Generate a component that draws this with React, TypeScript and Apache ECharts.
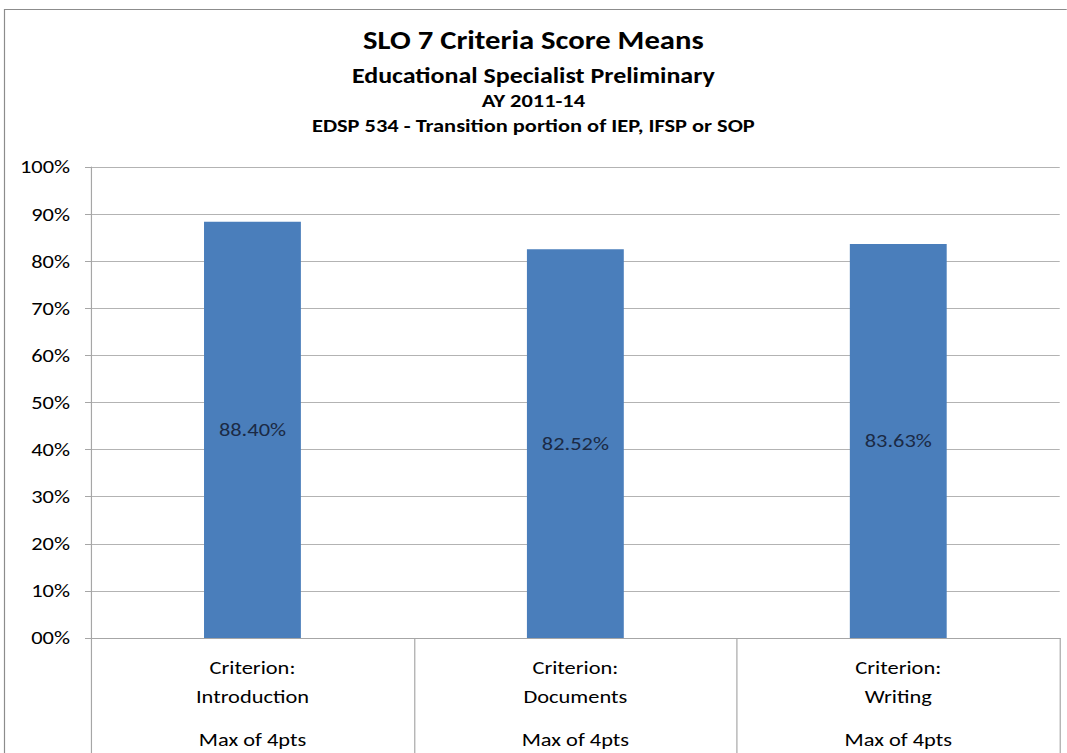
import React, { useEffect, useRef } from "react";
import * as echarts from "echarts";

const categories = ["Criterion:\nIntroduction", "Criterion:\nDocuments", "Criterion:\nWriting"];
const subLabel = "Max of 4pts";
const values = [88.4, 82.52, 83.63];
const valueLabels = ["88.40%", "82.52%", "83.63%"];
const titles = [
  "SLO 7 Criteria Score Means",
  "Educational Specialist Preliminary",
  "AY 2011-14",
  "EDSP 534 - Transition portion of IEP, IFSP or SOP",
];

const FONT = "Carlito, Lato, 'Open Sans', sans-serif";
const S = 1.18; // horizontal stretch of the reference picture
const W = 1067 / S;
const H = 753;

export default function App() {
  const ref = useRef<HTMLDivElement>(null);
  useEffect(() => {
    if (!ref.current) return;
    const chart = echarts.init(ref.current, null, { renderer: "svg" });
    const titleCenters = [43, 77, 102.5, 127.5];
    const titleSizes = [26, 22, 19, 19];
    chart.setOption({
      animation: false,
      backgroundColor: "#ffffff",
      title: titles.map((t, i) => ({
        text: t,
        left: "center",
        padding: 0,
        top: titleCenters[i] - titleSizes[i] * 0.6,
        textStyle: { fontFamily: FONT, fontWeight: "bold", fontSize: titleSizes[i], color: "#000" },
      })),
      graphic: [
        {
          type: "rect",
          shape: { x: 4.5 / S, y: 9.5, width: 1100, height: 800 },
          style: { fill: "none", stroke: "#8c8c8c", lineWidth: 1 },
          silent: true,
        },
      ],
      grid: { left: 91 / S, right: 7 / S, top: 167, bottom: H - 638 },
      xAxis: {
        type: "category",
        data: categories,
        axisLine: { show: true, lineStyle: { color: "#a6a6a6" } },
        axisTick: { show: true, length: 120, lineStyle: { color: "#a6a6a6" } },
        axisLabel: {
          margin: 15.5,
          formatter: (v: string) => {
            const parts = v.split("\n");
            return `{a|${parts[0]}}\n{a|${parts[1]}}\n{b|${subLabel}}`;
          },
          rich: {
            a: { fontFamily: FONT, fontSize: 19, color: "#000", lineHeight: 29, align: "center" },
            b: { fontFamily: FONT, fontSize: 19, color: "#000", lineHeight: 56, align: "center" },
          },
        },
      },
      yAxis: {
        type: "value",
        min: 0,
        max: 100,
        interval: 10,
        axisLine: { show: true, lineStyle: { color: "#a6a6a6" } },
        axisTick: { show: true, length: 6 / S, lineStyle: { color: "#a6a6a6" } },
        splitLine: { lineStyle: { color: "#b3b3b3" } },
        axisLabel: {
          margin: 21 / S,
          fontFamily: FONT,
          fontSize: 19,
          color: "#000",
          formatter: (v: number) => (v === 0 ? "00%" : `${v}%`),
        },
      },
      series: [
        {
          type: "bar",
          data: values,
          barWidth: "30%",
          itemStyle: { color: "#4a7ebb" },
          label: {
            show: true,
            position: "inside",
            fontFamily: FONT,
            fontSize: 19,
            color: "#1b2a45",
            formatter: (p: any) => valueLabels[p.dataIndex],
          },
        },
      ],
    });
    return () => chart.dispose();
  }, []);
  return (
    <div style={{ position: "absolute", left: 0, top: 0, width: 1067, height: H, overflow: "hidden", background: "#fff" }}>
      <div
        ref={ref}
        style={{ width: W, height: H, transform: `scaleX(${S})`, transformOrigin: "0 0" }}
      />
    </div>
  );
}
